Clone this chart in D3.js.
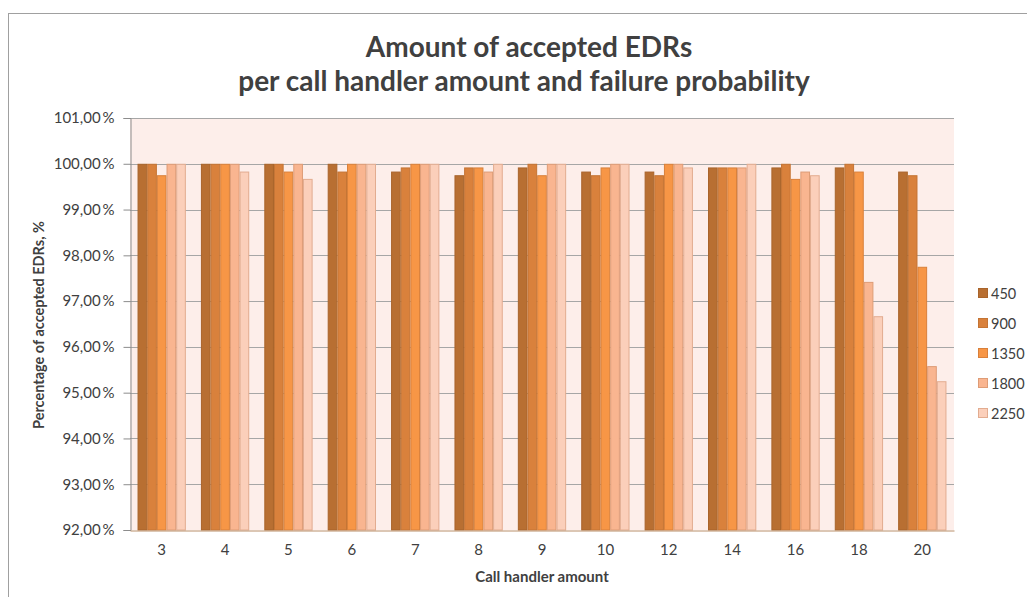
<!DOCTYPE html>
<html>
<head>
<meta charset="utf-8">
<script src="https://cdn.jsdelivr.net/npm/d3@7"></script>
<style>
  html, body { margin: 0; padding: 0; background: #fff; }
  svg { display: block; }
  text { font-family: Lato, "Open Sans", sans-serif; fill: #404040; }
</style>
</head>
<body>
<svg id="chart" width="1027" height="597"></svg>
<script>
// Call handler amounts (x categories)
const categories = ["3", "4", "5", "6", "7", "8", "9", "10", "12", "14", "16", "18", "20"];
// Series names (failure probability load levels)
const seriesNames = ["450", "900", "1350", "1800", "2250"];
// Percentage of accepted EDRs per series, one value per category
const s450  = [100, 100, 100, 100, 99.83, 99.75, 99.92, 99.83, 99.83, 99.92, 99.92, 99.92, 99.83];
const s900  = [100, 100, 100, 99.83, 99.92, 99.92, 100, 99.75, 99.75, 99.92, 100, 100, 99.75];
const s1350 = [99.75, 100, 99.83, 100, 100, 99.92, 99.75, 99.92, 100, 99.92, 99.67, 99.83, 97.75];
const s1800 = [100, 100, 100, 100, 100, 99.83, 100, 100, 100, 99.92, 99.83, 97.42, 95.58];
const s2250 = [100, 99.83, 99.67, 100, 100, 100, 100, 100, 99.92, 100, 99.75, 96.67, 95.25];
const seriesValues = [s450, s900, s1350, s1800, s2250];
// Y axis tick values
const yTicks = [92, 93, 94, 95, 96, 97, 98, 99, 100, 101];

const fills   = ["#B86F32", "#D9813C", "#F79646", "#F9B590", "#FBCFBA"];
const strokes = ["#A9642B", "#C47434", "#D9803A", "#DE9C76", "#E2AC90"];

const svg = d3.select("#chart");

// outer chart frame
svg.append("rect")
  .attr("x", 8.5).attr("y", 13.5)
  .attr("width", 1040).attr("height", 600)
  .attr("fill", "#fff").attr("stroke", "#A0A0A0").attr("stroke-width", 1);

const plot = { left: 130, right: 954, top: 118, bottom: 530 };

const x0 = d3.scaleBand()
  .domain(categories)
  .range([plot.left, plot.right])
  .paddingInner(0.238)
  .paddingOuter(0.119);

const x1 = d3.scaleBand()
  .domain(seriesNames)
  .range([0, x0.bandwidth()]);

const y = d3.scaleLinear()
  .domain([92, 101])
  .range([plot.bottom, plot.top]);

const locale = d3.formatLocale({ decimal: ",", thousands: " ", grouping: [3], currency: ["", ""] });
const fmt = locale.format(".2f");

// plot background
svg.append("rect")
  .attr("x", plot.left).attr("y", plot.top)
  .attr("width", plot.right - plot.left).attr("height", plot.bottom - plot.top)
  .attr("fill", "#FDEEEA");

// horizontal gridlines
svg.append("g")
  .selectAll("line")
  .data(yTicks.filter(d => d > 92))
  .join("line")
  .attr("x1", plot.left).attr("x2", plot.right)
  .attr("y1", d => Math.round(y(d)) + 0.5).attr("y2", d => Math.round(y(d)) + 0.5)
  .attr("stroke", "#A6A6A6").attr("stroke-width", 1);

// bars
const groups = svg.append("g")
  .selectAll("g")
  .data(categories)
  .join("g")
  .attr("transform", d => `translate(${x0(d)},0)`);

groups.selectAll("rect")
  .data((c, ci) => seriesNames.map((s, si) => ({ s, si, v: seriesValues[si][ci] })))
  .join("rect")
  .attr("x", d => x1(d.s) + 0.5)
  .attr("y", d => y(d.v) + 0.5)
  .attr("width", x1.bandwidth() - 1)
  .attr("height", d => y(92) - y(d.v) - 0.5)
  .attr("fill", d => fills[d.si])
  .attr("stroke", d => strokes[d.si])
  .attr("stroke-width", 1);

// y axis
const yAxis = d3.axisLeft(y)
  .tickValues(yTicks)
  .tickSize(7)
  .tickPadding(9)
  .tickFormat(d => fmt(d) + "\u2009%");

const yg = svg.append("g")
  .attr("transform", `translate(${plot.left + 0.5},0)`)
  .call(yAxis);
yg.select(".domain").attr("stroke", "#8C8C8C");
yg.selectAll(".tick line").attr("stroke", "#8C8C8C");
yg.selectAll(".tick text")
  .style("font-size", "15px").attr("fill", "#404040");

// x axis
const xAxis = d3.axisBottom(x0).tickSize(0).tickPadding(14);
const xg = svg.append("g")
  .attr("transform", `translate(0,${plot.bottom + 0.5})`)
  .call(xAxis);
xg.select(".domain").attr("stroke", "#B98F6A");
xg.selectAll(".tick text")
  .style("font-size", "15px").attr("fill", "#404040");

// title
const title = svg.append("text")
  .attr("text-anchor", "middle")
  .style("font-size", "28px").style("font-weight", "bold")
  .attr("fill", "#000");
title.append("tspan").attr("x", 529).attr("y", 57).text("Amount of accepted EDRs");
title.append("tspan").attr("x", 524).attr("y", 91).text("per call handler amount and failure probability");

// axis titles
svg.append("text")
  .attr("text-anchor", "middle")
  .attr("transform", "translate(44,325) rotate(-90)")
  .style("font-size", "14.5px").style("font-weight", "bold")
  .attr("fill", "#000")
  .text("Percentage of accepted EDRs, %");

svg.append("text")
  .attr("x", 542).attr("y", 582)
  .attr("text-anchor", "middle")
  .style("font-size", "15px").style("font-weight", "bold")
  .attr("fill", "#000")
  .text("Call handler amount");

// legend
const legend = svg.append("g")
  .selectAll("g")
  .data(seriesNames)
  .join("g")
  .attr("transform", (d, i) => `translate(978,${288 + i * 30})`);
legend.append("rect")
  .attr("x", 0.5).attr("y", 0.5).attr("width", 9).attr("height", 9)
  .attr("fill", (d, i) => fills[i]).attr("stroke", (d, i) => strokes[i]);
legend.append("text")
  .attr("x", 13).attr("y", 10.5)
  .style("font-size", "14.5px").attr("fill", "#404040")
  .text(d => d);
</script>
</body>
</html>
